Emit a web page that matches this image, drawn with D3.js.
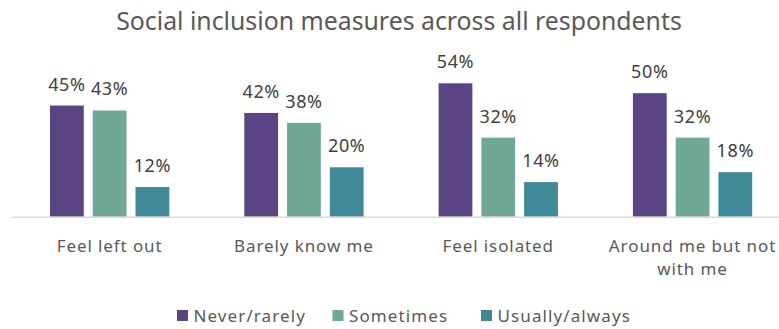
<!DOCTYPE html>
<html>
<head>
<meta charset="utf-8">
<script src="https://cdn.jsdelivr.net/npm/d3@7"></script>
<style>
  html, body { margin: 0; padding: 0; background: #ffffff; }
  svg { display: block; }
  text { font-family: "Noto Sans", "Open Sans", sans-serif; }
</style>
</head>
<body>
<svg id="chart" width="779" height="329"></svg>
<script>
// Survey measures and the share of respondents in each frequency band (%)
const categories = ["Feel left out", "Barely know me", "Feel isolated", "Around me but not with me"];
const seriesNames = ["Never/rarely", "Sometimes", "Usually/always"];
const neverRarely = [45, 42, 54, 50];
const sometimes = [43, 38, 32, 32];
const usuallyAlways = [12, 20, 14, 18];
const seriesValues = [neverRarely, sometimes, usuallyAlways];
const seriesColors = ["#5a4484", "#6fa896", "#3e8898"];

const svg = d3.select("#chart");
const W = 779, H = 329;
const baseY = 216.7;

// Title, sized so it spans the intended width
const title = svg.append("text")
  .attr("x", 399)
  .attr("y", 30)
  .attr("text-anchor", "middle")
  .attr("font-size", 24)
  .attr("fill", "#595959")
  .text("Social inclusion measures across all respondents");
const titleLen = title.node().getComputedTextLength();
if (titleLen > 0) title.attr("font-size", Math.min(27, 24 * 566 / titleLen));

// Scales
const x0 = d3.scaleBand()
  .domain(categories)
  .range([12.5, 789.7])
  .paddingInner(0.386)
  .paddingOuter(0.193);

const x1 = d3.scaleBand()
  .domain(seriesNames)
  .range([0, x0.bandwidth()])
  .paddingInner(0.21)
  .paddingOuter(0);

const y = d3.scaleLinear()
  .domain([0, 54])
  .range([baseY, 83.3]);

// Bars and value labels
const groups = svg.append("g").selectAll("g")
  .data(categories)
  .join("g")
  .attr("transform", d => `translate(${x0(d)},0)`);

const cells = groups.selectAll("g")
  .data((c, ci) => seriesNames.map((s, si) => ({ s, si, v: seriesValues[si][ci] })))
  .join("g");

cells.append("rect")
  .attr("x", d => x1(d.s))
  .attr("y", d => y(d.v))
  .attr("width", x1.bandwidth())
  .attr("height", d => baseY - y(d.v))
  .attr("fill", d => seriesColors[d.si]);

cells.append("text")
  .attr("x", d => x1(d.s) + x1.bandwidth() / 2)
  .attr("y", d => y(d.v) - 15)
  .attr("text-anchor", "middle")
  .attr("font-size", 18)
  .attr("letter-spacing", 0.6)
  .attr("fill", "#404040")
  .text(d => d.v + "%");

// Baseline
svg.append("line")
  .attr("x1", 12)
  .attr("x2", W)
  .attr("y1", baseY + 0.5)
  .attr("y2", baseY + 0.5)
  .attr("stroke", "#d9d9d9")
  .attr("stroke-width", 1.5);

// Category labels (wrapped to the band width)
const catLines = {
  "Around me but not with me": ["Around me but not", "with me"]
};
const catLabels = svg.append("g").selectAll("text")
  .data(categories)
  .join("text")
  .attr("x", d => x0(d) + x0.bandwidth() / 2)
  .attr("y", 251.5)
  .attr("text-anchor", "middle")
  .attr("font-size", 17)
  .attr("letter-spacing", 0.9)
  .attr("fill", "#595959");

catLabels.each(function(d) {
  const lines = catLines[d] || [d];
  d3.select(this).selectAll("tspan")
    .data(lines)
    .join("tspan")
    .attr("x", x0(d) + x0.bandwidth() / 2)
    .attr("dy", (l, i) => i === 0 ? 0 : 23)
    .text(l => l);
});

// Legend
const legendX = [177, 332.5, 481];
const legend = svg.append("g").selectAll("g")
  .data(seriesNames)
  .join("g")
  .attr("transform", (d, i) => `translate(${legendX[i]},310)`);

legend.append("rect")
  .attr("x", 0)
  .attr("y", 0)
  .attr("width", 11)
  .attr("height", 11)
  .attr("fill", (d, i) => seriesColors[i]);

legend.append("text")
  .attr("x", 16.5)
  .attr("y", 11.5)
  .attr("font-size", 17)
  .attr("letter-spacing", 1.1)
  .attr("fill", "#595959")
  .text(d => d);
</script>
</body>
</html>
